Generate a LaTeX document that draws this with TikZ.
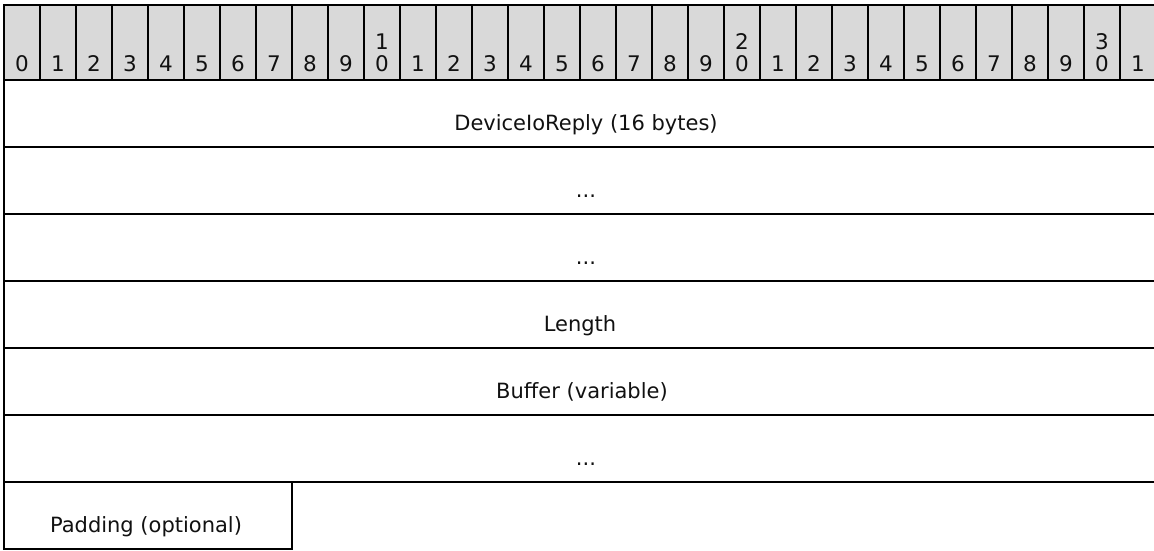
\documentclass[tikz,border=0pt]{standalone}
\usepackage{fontspec}
\setmainfont{DejaVu Sans}
\definecolor{hdrgray}{HTML}{D9D9D9}
\definecolor{txt}{HTML}{111111}
\tikzset{
  rule/.style={line width=2.2pt, draw=black},
  thickrule/.style={line width=2.8pt, draw=black},
  bitnum/.style={anchor=base, inner sep=0pt, text=txt, font=\fontsize{21.5}{24}\selectfont},
  field/.style={anchor=base, inner sep=0pt, text=txt, font=\fontsize{21}{24}\selectfont},
}
\begin{document}
\begin{tikzpicture}[x=1pt,y=-1pt]
\useasboundingbox (0,0) rectangle (1154,551);
% header
\fill[hdrgray] (4,5) rectangle (1156,80);
\foreach \i in {0,...,32}{
  \draw[rule] (4+36*\i,5) -- (4+36*\i,80);
}
\draw[rule] (3,5) -- (1160,5);
\foreach \i in {0,...,31}{
  \pgfmathtruncatemacro\u{mod(\i,10)}
  \pgfmathtruncatemacro\t{div(\i,10)}
  \node[bitnum] (b\i) at (22+36*\i,72) {\u};
  \ifnum\u=0 \ifnum\t>0 \node[bitnum] (t\i) at (22+36*\i,49) {\t};\fi\fi
}
% rows
\draw[rule] (4,5) -- (4,549);
\draw[thickrule] (3,80) -- (1160,80);
\foreach \yy in {147,214,281,348,415,482}{
  \draw[rule] (3,\yy) -- (1160,\yy);
}
\draw[rule] (3,549) -- (292,549) -- (292,482);
% field labels
\node[field] (f1) at (586,130) {DeviceIoReply (16 bytes)};
\node[field] (f2) at (586,197) {...};
\node[field] (f3) at (586,264) {...};
\node[field] (f4) at (580,331) {Length};
\node[field] (f5) at (582,398) {Buffer (variable)};
\node[field] (f6) at (586,465) {...};
\node[field] (f7) at (146,532) {Padding (optional)};
\end{tikzpicture}
\end{document}
